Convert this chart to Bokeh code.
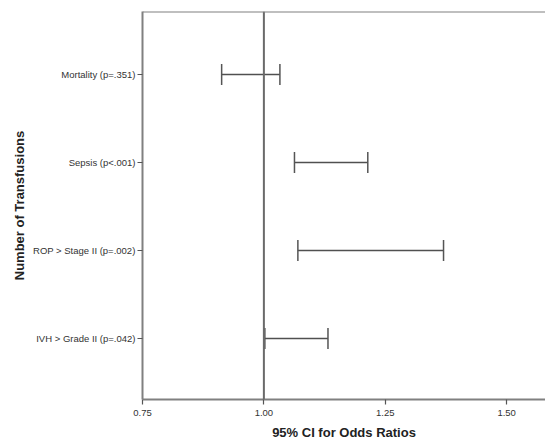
from bokeh.plotting import figure
from bokeh.models import Range1d, FixedTicker, Span, Whisker, TeeHead, ColumnDataSource
from bokeh.embed import file_html
from bokeh.resources import INLINE

# ---- data ----
categories = ["Mortality (p=.351)", "Sepsis (p<.001)", "ROP > Stage II (p=.002)", "IVH > Grade II (p=.042)"]
ci_lower = [0.913, 1.063, 1.070, 1.002]
ci_upper = [1.033, 1.214, 1.370, 1.132]
x_ticks = [0.75, 1.00, 1.25, 1.50]
x_tick_labels = ["0.75", "1.00", "1.25", "1.50"]
reference_or = 1.0
x_title = "95% CI for Odds Ratios"
y_title = "Number of Transfusions"

n = len(categories)
ypos = [n - i for i in range(n)]
src = ColumnDataSource(dict(y=ypos, lower=ci_lower, upper=ci_upper, label=categories))

W, H = 545, 445
p = figure(width=W, height=H, output_backend="svg", toolbar_location=None,
           x_range=Range1d(0.75, 1.580), y_range=Range1d(0.307, 4.716),
           min_border_left=142, min_border_top=11, min_border_right=0, min_border_bottom=46)

p.background_fill_color = "white"
p.border_fill_color = "white"
p.outline_line_color = None
p.xgrid.visible = False
p.ygrid.visible = False

axis_col = "#808080"

# reference line at OR = 1
p.add_layout(Span(location=reference_or, dimension="height", line_color="#6a6a6a", line_width=2))
# top frame border
p.add_layout(Span(location=p.y_range.end, dimension="width", line_color=axis_col, line_width=2))

# CI whiskers
w = Whisker(source=src, base="y", lower="lower", upper="upper", dimension="width",
            line_color="#505050", line_width=1.5,
            lower_head=TeeHead(size=21, line_color="#555555", line_width=1.5),
            upper_head=TeeHead(size=21, line_color="#555555", line_width=1.5))
p.add_layout(w)

xa = p.xaxis[0]
xa.ticker = FixedTicker(ticks=x_ticks)
xa.major_label_overrides = {t: l for t, l in zip(x_ticks, x_tick_labels)}
xa.axis_label = x_title
ya = p.yaxis[0]
ya.ticker = FixedTicker(ticks=ypos)
ya.major_label_overrides = {y: c for y, c in zip(ypos, categories)}
ya.axis_label = y_title

for ax in (xa, ya):
    ax.axis_line_color = axis_col
    ax.axis_line_width = 2
    ax.major_tick_line_color = "#555555"
    ax.major_tick_line_width = 1.2
    ax.major_tick_out = 5
    ax.major_tick_in = 0
    ax.minor_tick_line_color = None
    ax.major_label_text_font = "Liberation Sans"
    ax.major_label_text_font_size = "9.5px"
    ax.major_label_text_color = "#333333"
    ax.major_label_standoff = 2
    ax.axis_label_text_font = "Liberation Sans"
    ax.axis_label_text_font_style = "bold"
    ax.axis_label_text_font_size = "13px"
    ax.axis_label_text_color = "#222222"

xa.major_label_standoff = 5
xa.axis_label_standoff = 6
ya.axis_label_standoff = 3

open("out.html", "w").write(file_html(p, INLINE))
